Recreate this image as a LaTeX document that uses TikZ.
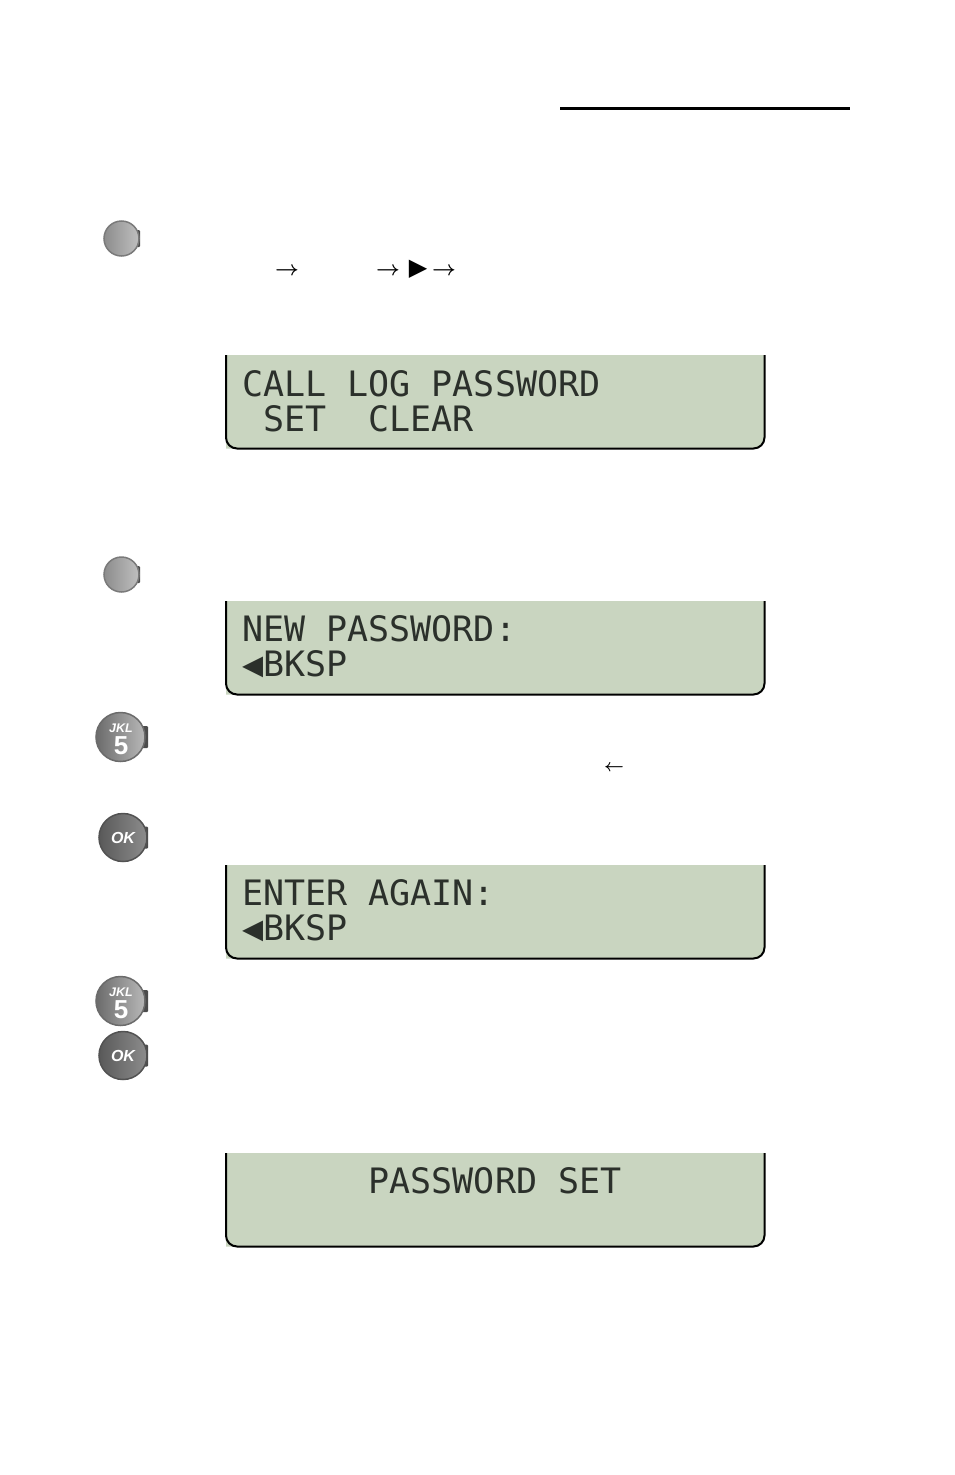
\documentclass[tikz,border=0pt]{standalone}
\usepackage{fontspec}
\newfontfamily\lcdfont{DejaVu Sans Mono}
\newfontfamily\symfont{DejaVu Sans}
\newfontfamily\keyfont{Liberation Sans}
\definecolor{lcdgreen}{HTML}{C9D5C0}
\definecolor{lcdink}{HTML}{2B302B}
\tikzset{
  lcd text/.style={anchor=base west, inner sep=0pt, text=lcdink, font=\lcdfont\fontsize{35}{35}\selectfont},
  arrow text/.style={inner sep=0pt, font=\fontsize{20}{20}\selectfont\boldmath},
  key base/.style={circle, inner sep=0pt, line width=1.5pt, shading angle=-45},
  plain key/.style={key base, minimum size=35pt, draw=black!52, left color=black!45, right color=black!25},
  digit key/.style={key base, minimum size=49pt, draw=black!58, left color=black!58, right color=black!28},
  ok key/.style={key base, minimum size=48pt, draw=black!68, left color=black!65, right color=black!45},
  key lug/.style={fill=black!70, rounded corners=1pt}
}
\begin{document}
\begin{tikzpicture}[x=1pt, y=-1pt]
  \useasboundingbox[fill=white] (0, 0) rectangle (954, 1475);
  \draw[line width=3pt] (560, 108.5) -- (850, 108.5);
  % panels
  \foreach \ptop in {355, 601, 865, 1153} {
    \fill[lcdgreen] (226, \ptop) -- (226, \ptop + 93.5) [rounded corners=11pt] -- (764.5, \ptop + 93.5) [sharp corners] -- (764.5, \ptop) -- cycle;
    \draw[line width=2pt, rounded corners=11pt] (226, \ptop) -- (226, \ptop + 93.5) -- (764.5, \ptop + 93.5) -- (764.5, \ptop);
  }
  \node[lcd text] (logline) at (242, 396) {CALL LOG PASSWORD};
  \node[lcd text] (setline) at (242, 431) {~SET~~CLEAR};
  \node[lcd text] (newline) at (242, 641) {NEW PASSWORD:};
  \node[lcd text] (bkspa) at (242, 676) {◀BKSP};
  \node[lcd text] (againline) at (242, 905) {ENTER AGAIN:};
  \node[lcd text] (bkspb) at (242, 940) {◀BKSP};
  \node[lcd text] (doneline) at (242, 1193) {~~~~~~PASSWORD SET};
  % menu path
  \node[arrow text] (arrowa) at (287, 271.5) {$\rightarrow$};
  \node[arrow text] (arrowb) at (388, 271.5) {$\rightarrow$};
  \node[inner sep=0pt, font=\symfont\fontsize{24}{24}\selectfont] (menutip) at (418, 269) {▶};
  \node[arrow text] (arrowc) at (444, 271.5) {$\rightarrow$};
  \node[arrow text, font=\fontsize{17}{17}\selectfont\boldmath] (backarrow) at (614, 768) {$\leftarrow$};
  % keys
  \fill[key lug] (130, 230) rectangle (140, 247);
  \node[plain key] (softa) at (121.5, 238.5) {};
  \fill[key lug] (130, 566) rectangle (140, 583);
  \node[plain key] (softb) at (121.5, 574.5) {};
  \foreach \keyname/\keyy in {digita/737, digitb/1001} {
    \fill[key lug] (135, \keyy - 11) rectangle (148, \keyy + 11);
    \node[digit key] (\keyname) at (120.5, \keyy) {};
    \node[inner sep=0pt, text height=8pt, text depth=0pt, text=white, font=\keyfont\bfseries\itshape\fontsize{12.5}{12.5}\selectfont] (\keyname letters) at (121, \keyy - 9) {JKL};
    \node[inner sep=0pt, text height=18pt, text depth=0pt, text=white, font=\keyfont\bfseries\fontsize{26}{26}\selectfont] (\keyname number) at (121, \keyy + 8) {5};
  }
  \foreach \keyname/\keyy in {oka/837.5, okb/1055.5} {
    \fill[key lug] (135, \keyy - 11) rectangle (148, \keyy + 11);
    \node[ok key, text=white, font=\keyfont\bfseries\itshape\fontsize{16}{16}\selectfont] (\keyname) at (123, \keyy) {OK};
  }
\end{tikzpicture}
\end{document}
